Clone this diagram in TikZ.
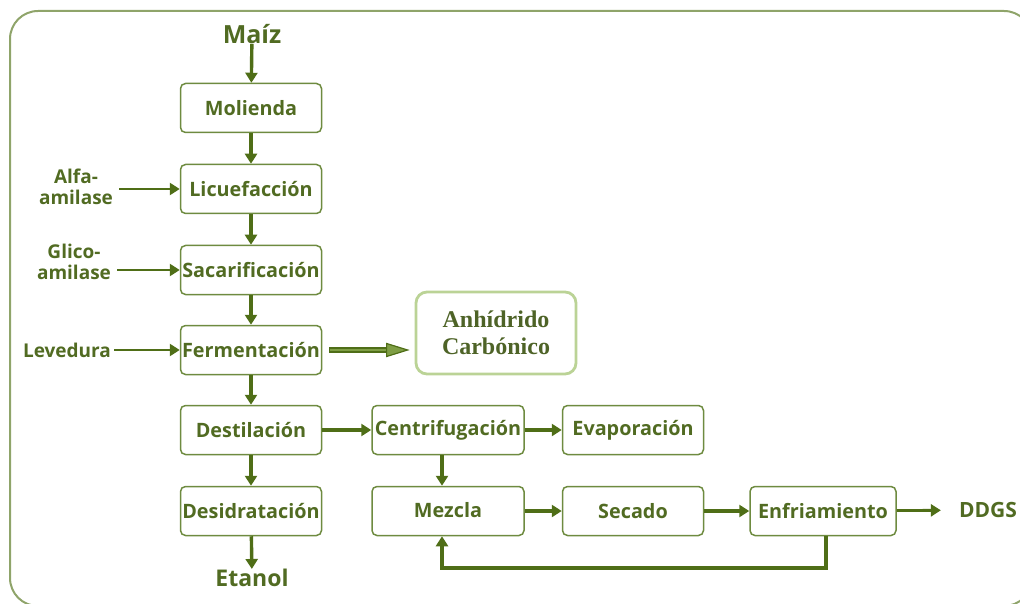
\documentclass[tikz,border=0pt]{standalone}
\usepackage{fontspec}
\setmainfont{Open Sans}
\newfontfamily\serifbold{Liberation Serif}
\usetikzlibrary{arrows.meta}
\definecolor{dg}{HTML}{4F6E17}
\definecolor{txt}{HTML}{516B22}
\definecolor{boxc}{HTML}{6E8B40}
\definecolor{frm}{HTML}{8FA46A}
\definecolor{lg}{HTML}{BBD396}
\definecolor{co}{HTML}{4E6327}
\definecolor{midg}{HTML}{7F9E45}
\tikzset{
  stepbox/.style={draw=boxc, line width=1.5pt, rounded corners=5pt, minimum width=141pt, minimum height=49pt, inner sep=0pt, text=txt, font=\bfseries\fontsize{19.8}{20}\selectfont},
  lbl/.style={text=txt, font=\bfseries\fontsize{19}{21}\selectfont, inner sep=0pt, align=center},
  arr/.style={draw=dg, line width=3.4pt, -{Triangle[length=10pt,width=12pt]}},
}
\begin{document}
\begin{tikzpicture}[x=1pt,y=-1pt]
\useasboundingbox (0,0) rectangle (1020,604);
\draw[frm, line width=2pt, rounded corners=28pt] (10,11) rectangle (1032,606);

\node[lbl, font=\bfseries\fontsize{25}{25}\selectfont] (maiz) at (252,34) {Maíz};
\node[stepbox] (mol) at (251,108) {Molienda};
\node[stepbox] (lic) at (251,189) {Licuefacción};
\node[stepbox] (sac) at (251,270) {Sacarificación};
\node[stepbox] (fer) at (251,350) {Fermentación};
\node[stepbox] (des) at (251,430) {Destilación};
\node[stepbox] (desh) at (251,511) {Desidratación};
\node[lbl, font=\bfseries\fontsize{23}{23}\selectfont] (eta) at (252,578) {Etanol};

\node[lbl] (alfa) at (76,187) {Alfa-\\amilase};
\node[lbl] (gli) at (74,262) {Glico-\\amilase};
\node[lbl] (lev) at (67,350) {Levedura};

\node[draw=lg, line width=2.8pt, rounded corners=11pt, minimum width=160pt, minimum height=82pt, text=co, align=center, font=\serifbold\bfseries\fontsize{24}{27}\selectfont] (co2) at (496,333) {Anhídrido\\Carbónico};

\node[stepbox, minimum width=152pt] (cen) at (448,430) {Centrifugación};
\node[stepbox] (eva) at (633,430) {\raisebox{4pt}{Evaporación}};
\node[stepbox, minimum width=152pt] (mez) at (448,511) {\raisebox{2pt}{Mezcla}};
\node[stepbox] (sec) at (633,511) {Secado};
\node[stepbox, minimum width=146pt] (enf) at (823,511) {Enfriamiento};
\node[lbl, font=\bfseries\fontsize{21}{21}\selectfont] (ddgs) at (988,510) {DDGS};

\draw[arr] (maiz) -- (mol);
\draw[arr] (mol) -- (lic);
\draw[arr] (lic) -- (sac);
\draw[arr] (sac) -- (fer);
\draw[arr] (fer) -- (des);
\draw[arr] (des) -- (desh);
\draw[arr] (desh) -- (eta);

\draw[arr, line width=2.8pt] (alfa.east |- lic) ++(6,0) -- (lic.west);
\draw[arr, line width=2.8pt] (gli.east |- sac) ++(6,0) -- (sac.west);
\draw[arr, line width=2.8pt] (lev.east) ++(3,0) -- (fer.west);

\draw[dg, line width=6pt, shorten <=7pt, shorten >=26pt] (fer.east) -- (co2.west |- fer.east);
\draw[midg, line width=2.4pt, shorten <=8pt, shorten >=26pt] (fer.east) -- (co2.west |- fer.east);
\fill[midg, draw=dg, line width=1.2pt] ([xshift=-7pt]co2.west |- fer.east) -- ++(-21,-6.5) -- ++(0,13) -- cycle;

\draw[arr, line width=3.1pt] (des) -- (cen);
\draw[arr, line width=3.1pt] (cen) -- (eva);
\draw[arr, line width=3.2pt] ([xshift=-6pt]cen.south) -- ([xshift=-6pt]mez.north);
\draw[arr] (mez) -- (sec);
\draw[arr] (sec) -- (enf);
\draw[arr, line width=2.8pt, shorten >=18pt] (enf) -- (ddgs);

\coordinate (fb1) at (826,568);
\coordinate (fb2) at (442,568);
\draw[arr, line width=3.2pt] (enf.south -| fb1) -- (fb1) -- (fb2) -- (mez.south -| fb2);
\end{tikzpicture}
\end{document}
